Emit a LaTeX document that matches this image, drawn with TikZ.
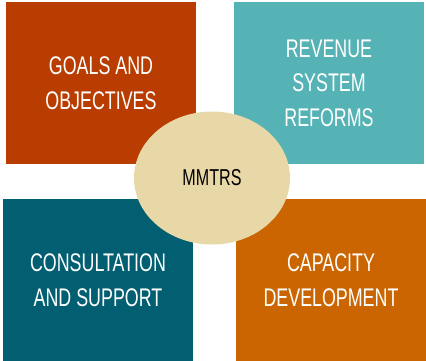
\documentclass[tikz,border=0pt]{standalone}
\usepackage{fontspec}
\setmainfont[FakeStretch=0.7]{Liberation Sans}
\usepackage{xcolor}
\usepackage{tikz}
\usetikzlibrary{positioning}
\usetikzlibrary{shapes.geometric}

\definecolor{rust}{HTML}{B93D00}
\definecolor{seateal}{HTML}{56B3B5}
\definecolor{deepteal}{HTML}{015F71}
\definecolor{amber}{HTML}{CB6501}
\definecolor{sand}{HTML}{E8D8A8}

\begin{document}
\begin{tikzpicture}
                [x=1pt, y=-1pt,
                 block/.style = {minimum width=190pt, minimum height=162pt, inner sep=0pt,
                                 text=white, align=center, font=\fontsize{25.5}{34.5}\selectfont},
                 hub/.style = {ellipse, fill=sand, minimum width=156pt, minimum height=133pt,
                               inner sep=0pt, font=\fontsize{23}{26}\selectfont}]

                \useasboundingbox (0,0) rectangle (426,360);

                \node[block, fill=rust] (goals) at (101, 83) {GOALS AND\\OBJECTIVES};
                \node[block, fill=seateal] (revenue) at (329, 83) {REVENUE\\SYSTEM\\REFORMS};
                \node[block, fill=deepteal] (consult) at (98, 280) {CONSULTATION\\AND SUPPORT};
                \node[block, fill=amber] (capacity) at (331, 280) {CAPACITY\\DEVELOPMENT};

                \node[hub] (mmtrs) at (212, 178) {MMTRS};

            \end{tikzpicture}
\end{document}
